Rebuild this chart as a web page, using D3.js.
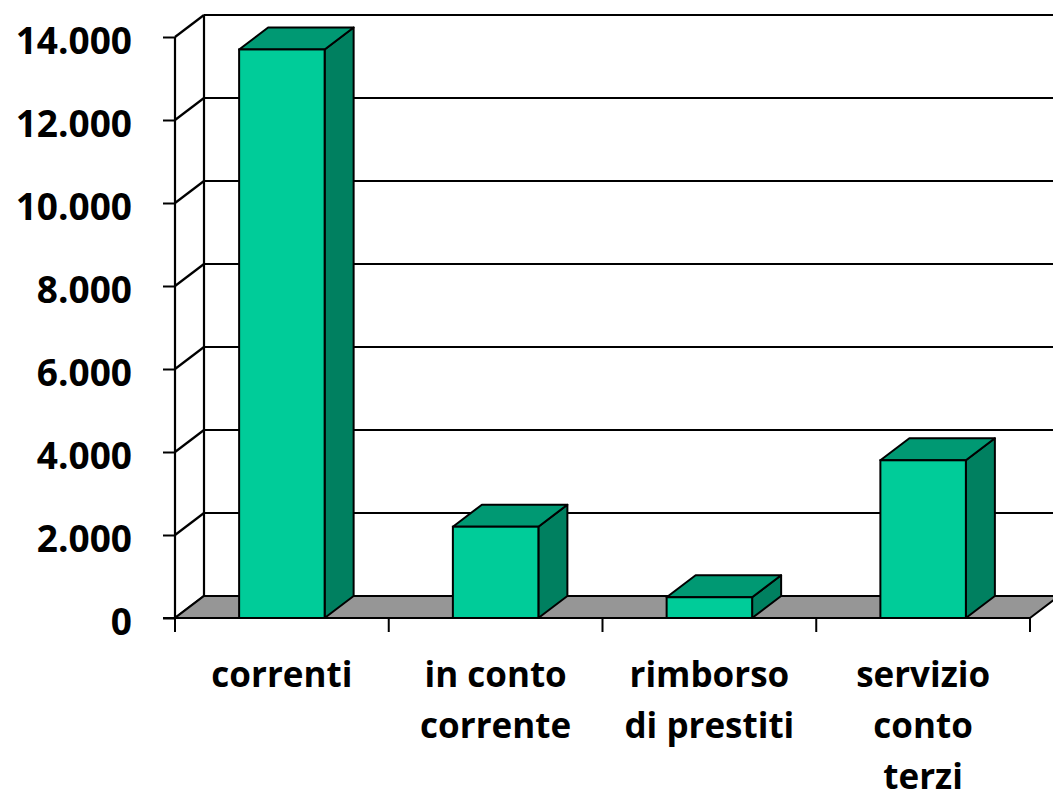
<!DOCTYPE html>
<html><head><meta charset="utf-8">
<script src="https://cdn.jsdelivr.net/npm/d3@7/dist/d3.min.js"></script>
<style>body{margin:0;background:#fff}svg{display:block}text{font-family:"Open Sans",sans-serif;font-weight:bold;fill:#000}</style>
</head><body>
<svg id="c" width="1053" height="800"></svg>
<script>
const categories = [["correnti"], ["in conto", "corrente"], ["rimborso", "di prestiti"], ["servizio", "conto", "terzi"]];
const values = [13700, 2200, 500, 3800];
const yTicks = [0, 2000, 4000, 6000, 8000, 10000, 12000, 14000];

const svg = d3.select("#c");
const DX = 29, DY = 22;
const x0 = 175, x1 = 1030;
const y = d3.scaleLinear().domain([0, 14000]).range([618, 37]);
const keys = categories.map(c => c.join(" "));
const x = d3.scaleBand().domain(keys).range([x0, x1]).paddingInner(0.6).paddingOuter(0.3);
const loc = d3.formatLocale({decimal: ",", thousands: ".", grouping: [3], currency: ["", ""]});
const fmt = loc.format(",");

// back wall gridlines
svg.append("g").selectAll("line").data(yTicks.slice(1)).join("line")
  .attr("x1", x0 + DX).attr("x2", 1053)
  .attr("y1", d => y(d) - DY).attr("y2", d => y(d) - DY)
  .attr("stroke", "#000").attr("stroke-width", 2.2);

// back wall left edge
svg.append("line").attr("x1", x0 + DX).attr("x2", x0 + DX)
  .attr("y1", y(14000) - DY).attr("y2", y(0) - DY).attr("stroke", "#000").attr("stroke-width", 2.2);

// side wall diagonals
svg.append("g").selectAll("line").data(yTicks).join("line")
  .attr("x1", x0).attr("y1", d => y(d)).attr("x2", x0 + DX).attr("y2", d => y(d) - DY)
  .attr("stroke", "#000").attr("stroke-width", 2.2);

// floor
svg.append("polygon")
  .attr("points", [[x0, y(0)], [x1, y(0)], [x1 + DX, y(0) - DY], [x0 + DX, y(0) - DY]].map(p => p.join(",")).join(" "))
  .attr("fill", "#969696").attr("stroke", "#000").attr("stroke-width", 2).attr("stroke-linejoin", "round");

// y axis
const yAxis = svg.append("g").attr("transform", `translate(${x0},0)`)
  .call(d3.axisLeft(y).tickValues(yTicks).tickSize(12).tickPadding(31).tickFormat(fmt));
yAxis.select(".domain").attr("stroke", "#000").attr("stroke-width", 2.2).attr("d", `M0,${y(14000)}V${y(0)}`);
yAxis.selectAll(".tick line").attr("stroke", "#000").attr("stroke-width", 2);
yAxis.selectAll(".tick text").attr("font-size", 37).attr("font-family", "Open Sans").attr("font-weight", "bold").attr("dy", "0.45em").attr("fill", "#000");

// x axis ticks at category boundaries
const bounds = d3.range(categories.length + 1).map(i => x0 + i * x.step());
svg.append("g").selectAll("line").data(bounds).join("line")
  .attr("x1", d => d).attr("x2", d => d).attr("y1", y(0)).attr("y2", y(0) + 14)
  .attr("stroke", "#000").attr("stroke-width", 2);
svg.append("line").attr("x1", x0 - 12).attr("x2", x1).attr("y1", y(0)).attr("y2", y(0))
  .attr("stroke", "#000").attr("stroke-width", 2);

// bars
const bars = svg.append("g").selectAll("g").data(values).join("g");
bars.each(function(v, i) {
  const g = d3.select(this);
  const bx = x(keys[i]), bw = x.bandwidth(), top = y(v), base = y(0);
  const pts = a => a.map(p => p.join(",")).join(" ");
  g.append("polygon").attr("points", pts([[bx + bw, base], [bx + bw + DX, base - DY], [bx + bw + DX, top - DY], [bx + bw, top]]))
    .attr("fill", "#008060").attr("stroke", "#000").attr("stroke-width", 2).attr("stroke-linejoin", "round");
  g.append("polygon").attr("points", pts([[bx, top], [bx + DX, top - DY], [bx + bw + DX, top - DY], [bx + bw, top]]))
    .attr("fill", "#009973").attr("stroke", "#000").attr("stroke-width", 2).attr("stroke-linejoin", "round");
  g.append("rect").attr("x", bx).attr("y", top).attr("width", bw).attr("height", base - top)
    .attr("fill", "#00CC99").attr("stroke", "#000").attr("stroke-width", 2);
});

// category labels
const lab = svg.append("g").selectAll("text").data(categories).join("text")
  .attr("x", (d, i) => x(keys[i]) + x.bandwidth() / 2)
  .attr("y", 687).attr("text-anchor", "middle").attr("font-size", 35);
lab.selectAll("tspan").data(d => d).join("tspan")
  .attr("x", function() { return d3.select(this.parentNode).attr("x"); })
  .attr("dy", (d, j) => j === 0 ? 0 : 51).text(d => d);
</script>
</body></html>
